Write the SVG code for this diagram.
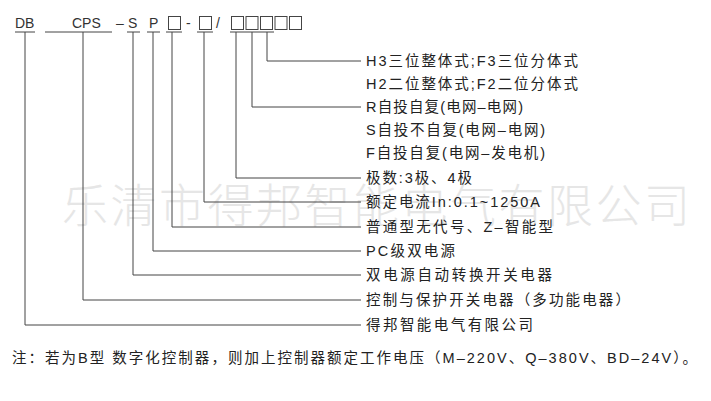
<svg xmlns="http://www.w3.org/2000/svg" width="711" height="401" viewBox="0 0 711 401">
<style>
.t{font-family:"Liberation Sans","Noto Sans CJK SC",sans-serif;font-size:14.5px;fill:#222}
.c{font-family:"Liberation Sans","Noto Sans CJK SC",sans-serif;font-size:14px;fill:#333}
.bx{fill:none;stroke:#444;stroke-width:1}
.w{font-family:"Noto Sans CJK SC",sans-serif;font-size:46px;fill:#e6e6e6;font-weight:300}
.l{fill:none;stroke:#444;stroke-width:1}
</style>
<rect width="711" height="401" fill="#fff"/>
<text class="w" x="62" y="222" textLength="628" lengthAdjust="spacing">乐清市得邦智能电气有限公司</text>
<g id="code">
<text class="c" x="15" y="28">DB</text>
<text class="c" x="72" y="28">CPS</text>
<text class="c" x="116" y="28">–</text>
<text class="c" x="128" y="28">S</text>
<text class="c" x="149" y="28">P</text>
<rect class="bx" x="168.5" y="16.5" width="12" height="13"/>
<text class="c" x="186" y="28">-</text>
<rect class="bx" x="199.5" y="16.5" width="12" height="13"/>
<text class="c" x="216" y="28">/</text>
<rect class="bx" x="231.5" y="16.5" width="12" height="13"/>
<rect class="bx" x="246" y="16.5" width="12" height="13"/>
<rect class="bx" x="260.5" y="16.5" width="12" height="13"/>
<rect class="bx" x="275" y="16.5" width="12" height="13"/>
<rect class="bx" x="289.5" y="16.5" width="12" height="13"/>
</g>
<g id="connectors" class="l">
<path d="M15 32H35M45 32H112M127 32H140M147 32H160M166 32H182M197 32H213M230 32H274"/>
<path d="M267 32V61H361"/>
<path d="M252 32V107H361"/>
<path d="M236 32V178H361"/>
<path d="M204 32V202H361"/>
<path d="M172 32V227H361"/>
<path d="M153 32V251H361"/>
<path d="M133 32V275H361"/>
<path d="M83 32V300H361"/>
<path d="M25 32V325H361"/>
</g>
<g id="n1"><text class="t" x="366" y="66" textLength="212" lengthAdjust="spacing">H3三位整体式;F3三位分体式</text></g>
<g id="n2"><text class="t" x="366" y="89" textLength="212" lengthAdjust="spacing">H2二位整体式;F2二位分体式</text></g>
<g id="n3"><text class="t" x="366" y="112" textLength="157" lengthAdjust="spacing">R自投自复(电网–电网)</text></g>
<g id="n4"><text class="t" x="366" y="135" textLength="179" lengthAdjust="spacing">S自投不自复(电网–电网)</text></g>
<g id="n5"><text class="t" x="366" y="158" textLength="179" lengthAdjust="spacing">F自投自复(电网–发电机)</text></g>
<g id="n6"><text class="t" x="366" y="183" textLength="106" lengthAdjust="spacing">极数:3极、4极</text></g>
<g id="n7"><text class="t" x="366" y="207" textLength="174" lengthAdjust="spacing">额定电流In:0.1~1250A</text></g>
<g id="n8"><text class="t" x="366" y="232" textLength="187" lengthAdjust="spacing">普通型无代号、Z–智能型</text></g>
<g id="n9"><text class="t" x="366" y="256" textLength="89" lengthAdjust="spacing">PC级双电源</text></g>
<g id="n10"><text class="t" x="366" y="280" textLength="186" lengthAdjust="spacing">双电源自动转换开关电器</text></g>
<g id="n11"><text class="t" x="366" y="305" textLength="264" lengthAdjust="spacing">控制与保护开关电器（多功能电器）</text></g>
<g id="n12"><text class="t" x="366" y="330" textLength="167" lengthAdjust="spacing">得邦智能电气有限公司</text></g>
<g id="note"><text class="t" x="12" y="363" textLength="685" lengthAdjust="spacing">注：若为B型 数字化控制器，则加上控制器额定工作电压（M–220V、Q–380V、BD–24V）。</text></g>
</svg>
